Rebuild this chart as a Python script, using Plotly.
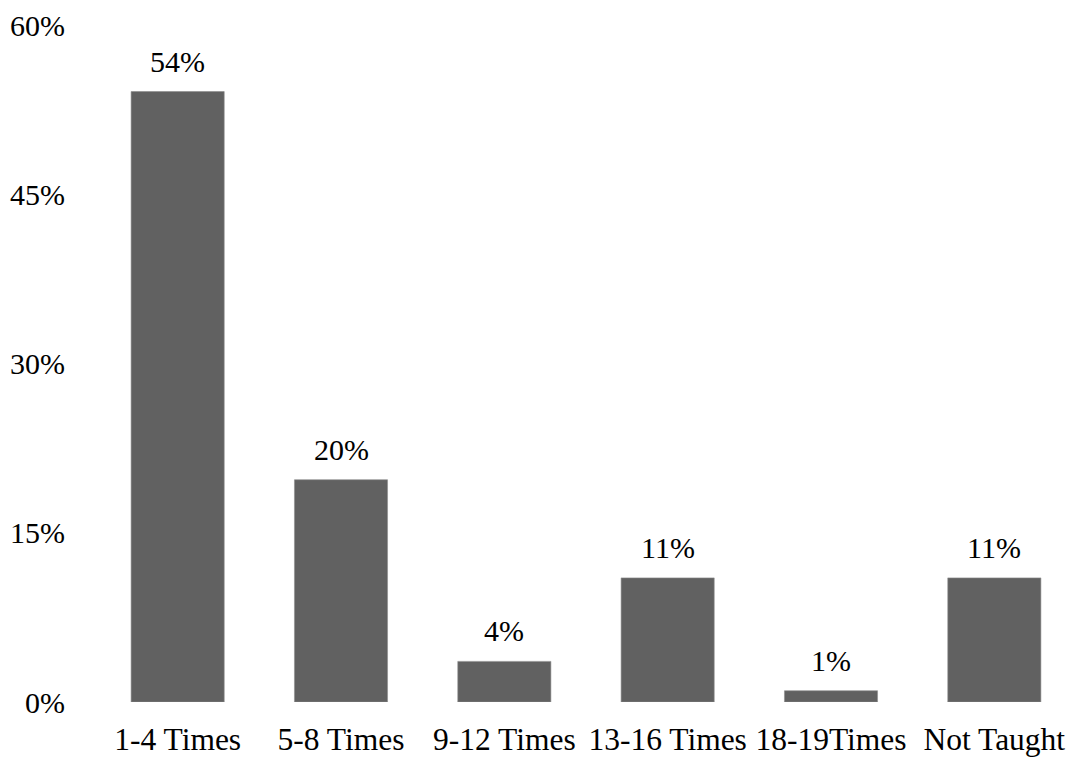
import plotly.graph_objects as go

categories = ["1-4 Times", "5-8 Times", "9-12 Times", "13-16 Times", "18-19Times", "Not Taught"]
values = [54.1, 19.7, 3.6, 11.0, 1.0, 11.0]
labels = ["54%", "20%", "4%", "11%", "1%", "11%"]
tick_vals = [0, 15, 30, 45, 60]
tick_text = ["0%", "15%", "30%", "45%", "60%"]

FONT = "Liberation Serif"
FS = 30

fig = go.Figure(go.Bar(
    x=categories, y=values,
    marker=dict(color="#616161", line=dict(color="#8c8c8c", width=0.6)),
    hoverinfo="skip",
))

for c, v, t in zip(categories, values, labels):
    fig.add_annotation(x=c, y=v, text=t, showarrow=False, yanchor="bottom",
                       yshift=12, font=dict(family=FONT, size=FS, color="#000000"))

fig.update_layout(
    width=1069, height=750,
    margin=dict(l=88, r=1, t=17, b=56),
    paper_bgcolor="white", plot_bgcolor="white",
    bargap=0.43,
    showlegend=False,
    font=dict(family=FONT, size=FS, color="#000000"),
)
fig.update_xaxes(showgrid=False, showline=False, ticks="", ticklabelstandoff=15,
                 tickfont=dict(family=FONT, size=31.5, color="#000000"))
fig.update_yaxes(range=[0, 60], tickvals=tick_vals, ticktext=tick_text,
                 showgrid=False, zeroline=False, showline=False, ticks="",
                 ticklabelstandoff=30,
                 tickfont=dict(family=FONT, size=FS, color="#000000"))

fig.write_html("out.html")
